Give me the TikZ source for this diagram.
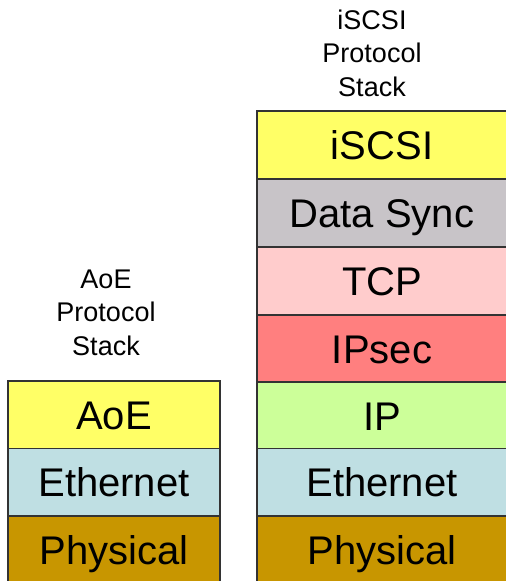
\documentclass[tikz,border=0pt]{standalone}
\usepackage{fontspec}
\setmainfont{Liberation Sans}
\definecolor{layerYellow}{HTML}{FFFF66}
\definecolor{layerGray}{HTML}{C8C4C8}
\definecolor{layerPink}{HTML}{FFCCCC}
\definecolor{layerRed}{HTML}{FF7F7F}
\definecolor{layerGreen}{HTML}{CCFF99}
\definecolor{layerBlue}{HTML}{BFDFE3}
\definecolor{layerBrown}{HTML}{C89600}
\definecolor{edgeGray}{HTML}{333333}
\tikzset{
  layer/.style={draw=edgeGray, line width=1.4pt, rectangle, inner sep=0pt,
    minimum height=68pt, text height=28.6pt, text depth=0pt,
    font=\fontsize{40}{44}\selectfont},
  leftlayer/.style={layer, minimum width=212pt},
  rightlayer/.style={layer, minimum width=250pt},
  stacktitle/.style={align=center, anchor=base, inner sep=0pt,
    font=\fontsize{27}{33.5}\selectfont}
}
\begin{document}
\begin{tikzpicture}[x=1pt, y=-1pt]
  \useasboundingbox (0,0) rectangle (506,581);
  \clip (0,0) rectangle (506,581);

  % AoE stack (title anchored at the baseline of its last line)
  \node[stacktitle] (aoetitle) at (106,355) {AoE\\Protocol\\Stack};
  \node[leftlayer, fill=layerYellow] (aoe)   at (114,415) {AoE};
  \node[leftlayer, fill=layerBlue]   (eth1)  at (114,482.5) {Ethernet};
  \node[leftlayer, fill=layerBrown]  (phy1)  at (114,550) {Physical};

  % iSCSI stack
  \node[stacktitle] (iscsititle) at (372,96) {iSCSI\\Protocol\\Stack};
  \node[rightlayer, fill=layerYellow] (iscsi) at (382,145) {iSCSI};
  \node[rightlayer, fill=layerGray]   (sync)  at (382,213) {Data Sync};
  \node[rightlayer, fill=layerPink]   (tcp)   at (382,281) {TCP};
  \node[rightlayer, fill=layerRed]    (ipsec) at (382,349) {IPsec};
  \node[rightlayer, fill=layerGreen]  (ip)    at (382,416) {IP};
  \node[rightlayer, fill=layerBlue]   (eth2)  at (382,482.5) {Ethernet};
  \node[rightlayer, fill=layerBrown]  (phy2)  at (382,550) {Physical};
\end{tikzpicture}
\end{document}
